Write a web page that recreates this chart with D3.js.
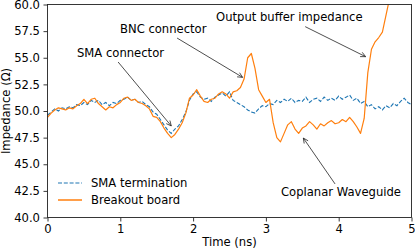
<!DOCTYPE html>
<html><head><meta charset="utf-8">
<script src="https://cdn.jsdelivr.net/npm/d3@7"></script>
<style>body{margin:0;background:#fff}svg{display:block}text{font-family:"DejaVu Sans",sans-serif;font-size:11.6px;fill:#000}</style>
</head><body><svg id="c" width="415" height="248"></svg>
<script>
const times = [0,0.05,0.1,0.15,0.2,0.25,0.3,0.35,0.4,0.45,0.5,0.55,0.6,0.65,0.7,0.75,0.8,0.85,0.9,0.95,
1,1.05,1.1,1.15,1.2,1.25,1.3,1.35,1.4,1.45,1.5,1.55,1.6,1.65,1.7,1.75,1.8,1.85,1.9,1.95,
2,2.05,2.1,2.15,2.2,2.25,2.3,2.35,2.4,2.45,2.5,2.55,2.6,2.65,2.7,2.75,2.8,2.85,2.9,2.95,
3,3.05,3.1,3.15,3.2,3.25,3.3,3.35,3.4,3.45,3.5,3.55,3.6,3.65,3.7,3.75,3.8,3.85,3.9,3.95,
4,4.05,4.1,4.15,4.2,4.25,4.3,4.35,4.4,4.45,4.5,4.55,4.6,4.65,4.7,4.75,4.8,4.85,4.9,4.95,5];
const smaTermination = [49.6,49.9,50.2,50.0,50.3,50.2,50.4,50.3,50.6,50.5,50.8,50.6,51.0,50.8,51.0,50.6,50.8,50.5,50.8,50.7,
51.0,51.1,51.3,51.0,51.1,50.8,50.9,50.6,50.4,49.9,49.7,49.2,48.7,48.2,47.9,48.3,48.6,49.2,49.9,51.0,
51.6,51.8,51.3,51.1,51.2,50.9,51.3,51.5,51.7,51.4,51.8,51.0,50.8,50.6,50.4,50.1,49.9,49.8,50.2,50.5,
50.4,50.7,50.6,51.0,50.8,51.1,50.9,51.2,50.8,51.0,50.9,51.3,50.8,51.1,51.2,50.9,51.3,51.0,51.2,51.0,
51.4,51.1,51.3,51.5,51.0,51.2,50.7,50.9,50.4,50.6,50.2,50.4,50.1,50.5,50.3,50.7,50.5,50.9,51.2,50.8,50.6];
const breakoutBoard = [49.4,49.8,50.1,50.3,50.2,50.1,50.3,50.2,50.5,50.7,51.1,50.7,51.1,51.2,50.7,50.4,50.1,50.4,50.3,50.6,
50.8,51.2,51.3,51.0,51.1,50.8,50.7,50.5,50.2,49.5,49.4,49.0,48.4,47.9,47.5,47.8,48.3,48.9,49.8,51.2,
51.5,52.0,51.4,50.9,50.8,51.1,51.2,51.6,51.8,51.6,51.2,51.8,51.9,52.2,53.0,55.0,55.4,54.0,52.0,51.4,
50.8,51.1,48.9,47.5,47.1,47.9,48.7,49.0,48.3,47.9,48.4,48.6,49.0,48.7,48.3,48.8,48.6,48.9,49.1,48.8,
48.9,49.2,49.0,49.4,49.0,48.5,47.9,49.3,53.6,55.8,56.5,56.9,57.4,59.0,60.6,61.5,62.4,63.0,63.6,64.2,64.8];
const seriesNames = ["SMA termination","Breakout board"];
const xTicks = [0,1,2,3,4,5];
const yTicks = [40,42.5,45,47.5,50,52.5,55,57.5,60];
const annotations = [
  {text:"SMA connector", tx:0.405, ty:55.07, ax:1.70, ay:48.6, sx:0.97, sy:54.6},
  {text:"BNC connector", tx:0.996, ty:57.28, ax:2.68, ay:53.16, sx:1.78, sy:56.85},
  {text:"Output buffer impedance", tx:2.315, ty:58.45, ax:4.37, ay:55.1, sx:3.54, sy:57.92},
  {text:"Coplanar Waveguide", tx:3.207, ty:42.02, ax:3.514, ay:47.46, sx:3.95, sy:43.15}
];

const svg = d3.select("#c");
const L=47.5, R=411.5, T=4.5, B=217.5;
const x = d3.scaleLinear().domain([0,5]).range([L,R]);
const y = d3.scaleLinear().domain([40,60]).range([B,T]);

svg.append("defs").append("clipPath").attr("id","clip").append("rect")
  .attr("x",L).attr("y",T).attr("width",R-L).attr("height",B-T);

const line = d3.line().x(d=>x(d[0])).y(d=>y(d[1]));
const g = svg.append("g").attr("clip-path","url(#clip)");
g.append("path").datum(times.map((t,i)=>[t,smaTermination[i]]))
  .attr("d",line).attr("fill","none").attr("stroke","#1f77b4").attr("stroke-width",1.1).attr("stroke-dasharray","4,1.8");
g.append("path").datum(times.map((t,i)=>[t,breakoutBoard[i]]))
  .attr("d",line).attr("fill","none").attr("stroke","#ff7f0e").attr("stroke-width",1.2).attr("stroke-linejoin","round");

// axes
const xa = svg.append("g").attr("transform",`translate(0,${B})`)
  .call(d3.axisBottom(x).tickValues(xTicks).tickFormat(d3.format("d")).tickSize(4).tickPadding(3));
const ya = svg.append("g").attr("transform",`translate(${L},0)`)
  .call(d3.axisLeft(y).tickValues(yTicks).tickFormat(d3.format(".1f")).tickSize(4).tickPadding(3.5));
[xa,ya].forEach(a=>{a.select(".domain").remove();a.selectAll("line").attr("stroke","#222").attr("stroke-width",0.9);
  a.selectAll("text").attr("font-family","DejaVu Sans").attr("font-size","11.6px").attr("fill","#000");});
svg.append("rect").attr("x",L).attr("y",T).attr("width",R-L).attr("height",B-T)
  .attr("fill","none").attr("stroke","#222").attr("stroke-width",0.9);

svg.append("text").attr("x",(L+R)/2).attr("y",246).attr("text-anchor","middle").text("Time (ns)");
svg.append("text").attr("transform",`translate(10,${(T+B)/2}) rotate(-90)`).attr("text-anchor","middle").text("Impedance (Ω)");

// annotations
annotations.forEach(a=>{
  svg.append("text").attr("x",x(a.tx)).attr("y",y(a.ty)).text(a.text);
  const x1=x(a.sx), y1=y(a.sy), x2=x(a.ax), y2=y(a.ay);
  const ang=Math.atan2(y2-y1,x2-x1), hl=5, hw=2.4;
  svg.append("line").attr("x1",x1).attr("y1",y1).attr("x2",x2).attr("y2",y2).attr("stroke","#222").attr("stroke-width",0.8);
  const p1=[x2-hl*Math.cos(ang)+hw*Math.sin(ang), y2-hl*Math.sin(ang)-hw*Math.cos(ang)];
  const p2=[x2-hl*Math.cos(ang)-hw*Math.sin(ang), y2-hl*Math.sin(ang)+hw*Math.cos(ang)];
  svg.append("path").attr("d",`M${p1}L${x2},${y2}L${p2}`).attr("fill","none").attr("stroke","#222").attr("stroke-width",0.8);
});

// legend
const leg = svg.append("g");
const colors=["#1f77b4","#ff7f0e"], dashes=["4,1.8",null];
seriesNames.forEach((n,i)=>{
  const yy = 183 + i*17;
  leg.append("line").attr("x1",58).attr("x2",82).attr("y1",yy).attr("y2",yy)
    .attr("stroke",colors[i]).attr("stroke-width",i?1.5:1.1).attr("stroke-dasharray",dashes[i]);
  leg.append("text").attr("x",91).attr("y",yy+4.2).text(n);
});
</script></body></html>
